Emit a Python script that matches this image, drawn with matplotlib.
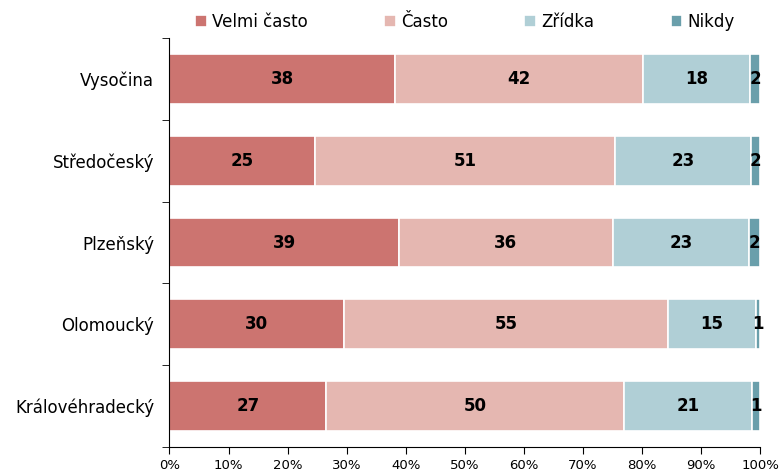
import matplotlib
matplotlib.use("Agg")
import matplotlib.pyplot as plt
import numpy as np

# regions, top to bottom as in the chart
regions = ["Vysočina", "Středočeský", "Plzeňský", "Olomoucký", "Královéhradecký"]

# shares in %
velmi_casto = [38.1, 24.6, 38.8, 29.5, 26.5]
casto = [42.1, 50.8, 36.2, 54.9, 50.5]
zridka = [18.1, 23.1, 23.1, 14.8, 21.6]
nikdy = [1.7, 1.5, 1.9, 0.8, 1.4]

# printed labels (rounded source values)
lab_velmi = [38, 25, 39, 30, 27]
lab_casto = [42, 51, 36, 55, 50]
lab_zridka = [18, 23, 23, 15, 21]
lab_nikdy = [2, 2, 2, 1, 1]

series = [
    ("Velmi často", velmi_casto, lab_velmi, "#CC7470"),
    ("Často", casto, lab_casto, "#E5B7B1"),
    ("Zřídka", zridka, lab_zridka, "#B0CFD6"),
    ("Nikdy", nikdy, lab_nikdy, "#6A9FAB"),
]

plt.rcParams["font.family"] = ["DejaVu Sans"]

fig = plt.figure(figsize=(7.8, 4.73), dpi=100)
ax = fig.add_axes([0.2173, 0.0556, 0.7574, 0.8634])

y = np.arange(len(regions))[::-1]
left = np.zeros(len(regions))
handles = []
for name, vals, labs, col in series:
    vals = np.array(vals)
    bars = ax.barh(y, vals, left=left, height=0.61, color=col,
                   edgecolor="white", linewidth=1.2, label=name)
    for yi, l, v, t in zip(y, left, vals, labs):
        ax.text(l + v / 2, yi, str(t), ha="center", va="center",
                fontsize=12, fontweight="bold", color="black")
    left += vals
    handles.append(bars)

ax.set_xlim(0, 100)
ax.set_ylim(-0.5, len(regions) - 0.5)
ax.set_xticks(np.arange(0, 101, 10))
ax.set_xticklabels([f"{v}%" for v in range(0, 101, 10)], fontsize=9.5)
ax.set_yticks(y)
ax.set_yticklabels(regions, fontsize=12)
ax.set_yticks(np.arange(-0.5, len(regions), 1), minor=True)
ax.tick_params(axis="y", which="major", length=0, pad=11)
ax.tick_params(axis="y", which="minor", length=5, direction="out")
ax.tick_params(axis="x", length=5, direction="out")
for s in ["top", "right"]:
    ax.spines[s].set_visible(False)

ax.legend(handles=handles, loc="center", bbox_to_anchor=(0.5, 1.04),
          ncol=4, frameon=False, fontsize=12, handlelength=0.7,
          handleheight=0.7, handletextpad=0.3, columnspacing=4.6)

fig.savefig("out.png", dpi=100)
